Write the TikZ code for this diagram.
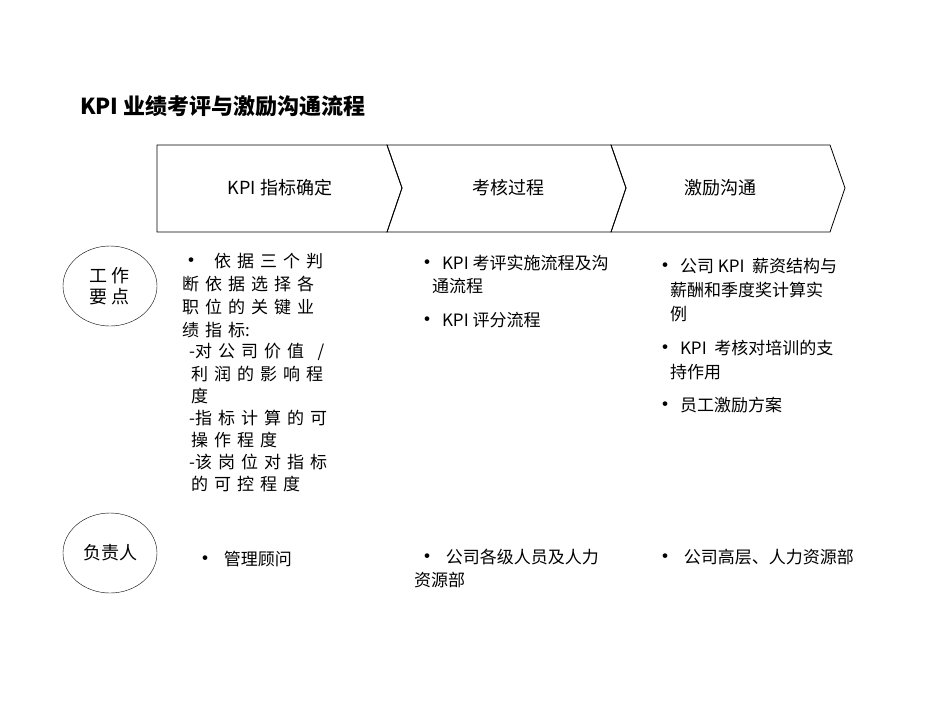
\documentclass[tikz,border=0pt]{standalone}
\usepackage{fontspec}
\setmainfont{Noto Sans CJK SC}
\usetikzlibrary{shapes.geometric}
\newcommand{\bl}{{\fontsize{22}{22}\selectfont\raisebox{-1.5pt}{•}}}
\newcommand{\gp}{\hspace{6pt}}
\begin{document}
\begin{tikzpicture}[x=1pt,y=-1pt,
 t/.style={anchor=west,inner sep=0,font=\fontsize{17}{19}\selectfont},
 hd/.style={font=\fontsize{18}{20}\selectfont,inner sep=0},
 chev/.style={draw=black,line width=0.8pt},
 oval/.style={draw,ellipse,minimum width=94pt,minimum height=80pt,font=\fontsize{18}{21}\selectfont,align=center}]
\useasboundingbox (0,0) rectangle (950,713);
\node[anchor=west,inner sep=0,font=\fontsize{22}{24}\bfseries\selectfont] (title) at (80,106) {KPI 业绩考评与激励沟通流程};
\draw[chev] (157,145) -- (387,145) -- (402,188) -- (387,232) -- (157,232) -- cycle;
\draw[chev] (387,145) -- (611,145) -- (626,188) -- (611,232) -- (387,232) -- (402,188) -- cycle;
\draw[chev] (611,145) -- (830,145) -- (845,188) -- (830,232) -- (611,232) -- (626,188) -- cycle;
\node[hd] (h1) at (280,188) {KPI 指标确定};
\node[hd] (h2) at (508,188) {考核过程};
\node[hd] (h3) at (720,188) {激励沟通};
\node[oval] (o1) at (110,286) {工 作\\要 点};
\node[oval] (o2) at (110,553) {负责人};
% column 1
\node[t] (a1) at (180,261) {\bl\gp\gp 依\gp 据\gp 三\gp 个\gp 判};
\node[t] (a2) at (182,284) {断\gp 依\gp 据\gp 选\gp 择\gp 各};
\node[t] (a3) at (182,307) {职\gp 位\gp 的\gp 关\gp 键\gp 业};
\node[t] (a4) at (182,330) {绩\gp 指\gp 标:};
\node[t] (a5) at (189,352) {-对\gp 公\gp 司\gp 价\gp 值\gp\ \ /};
\node[t] (a6) at (191,374) {利\gp 润\gp 的\gp 影\gp 响\gp 程};
\node[t] (a7) at (191,396) {度};
\node[t] (a8) at (189,418) {-指\gp 标\gp 计\gp 算\gp 的\gp 可};
\node[t] (a9) at (191,440) {操\gp 作\gp 程\gp 度};
\node[t] (a10) at (189,462) {-该\gp 岗\gp 位\gp 对\gp 指\gp 标};
\node[t] (a11) at (191,484) {的\gp 可\gp 控\gp 程\gp 度};
% column 2
\node[t] (b1) at (416,263) {\bl\ KPI 考评实施流程及沟};
\node[t] (b2) at (432,286) {通流程};
\node[t] (b3) at (416,320) {\bl\ KPI 评分流程};
% column 3
\node[t] (c1) at (654,266) {\bl\ 公司 KPI\ \ 薪资结构与};
\node[t] (c2) at (670,290) {薪酬和季度奖计算实};
\node[t] (c3) at (670,314) {例};
\node[t] (c4) at (654,348) {\bl\ KPI\ \ 考核对培训的支};
\node[t] (c5) at (670,372) {持作用};
\node[t] (c6) at (654,405) {\bl\ 员工激励方案};
% row 2
\node[t] (d1) at (194,559) {\bl\ \ 管理顾问};
\node[t] (e1) at (416,557) {\bl\ \ 公司各级人员及人力};
\node[t] (e2) at (414,580) {资源部};
\node[t] (f1) at (654,557) {\bl\ \ 公司高层、人力资源部};
\end{tikzpicture}
\end{document}
